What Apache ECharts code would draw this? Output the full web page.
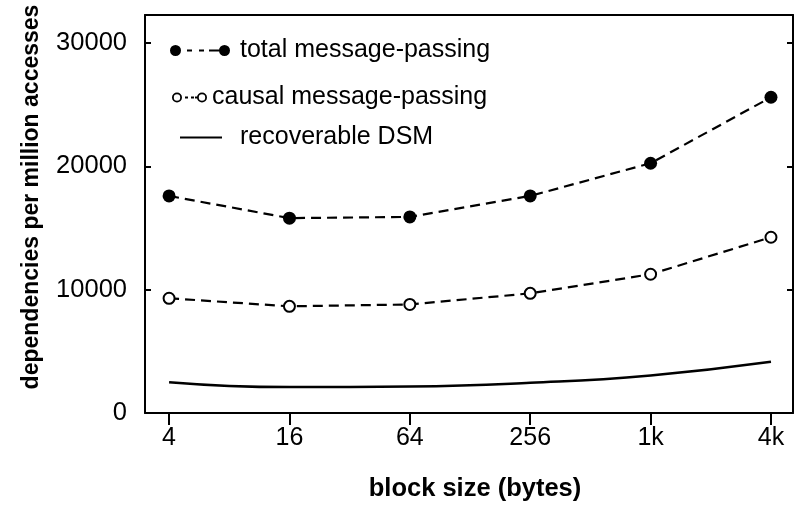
<!DOCTYPE html>
<html>
<head>
<meta charset="utf-8">
<script src="https://cdn.jsdelivr.net/npm/echarts@6/dist/echarts.min.js"></script>
<style>html,body{margin:0;padding:0;background:#fff}#c{width:794px;height:507px}</style>
</head>
<body>
<div id="c"></div>
<script>
// ---- data ----
const xLabels = ['4', '16', '64', '256', '1k', '4k'];
const yTicks = [0, 10000, 20000, 30000];
const totalMP = [17600, 15800, 15900, 17600, 20250, 25600];
const causalMP = [9300, 8650, 8800, 9700, 11250, 14250];
const recoverableDSM = [2500, 2100, 2150, 2450, 3050, 4150];
const seriesNames = ['total message-passing', 'causal message-passing', 'recoverable DSM'];

const FONT = 'Liberation Sans, Arial, Helvetica, sans-serif';
const xIdx = xLabels.map((_, i) => i);
const toPts = arr => arr.map((v, i) => [i, v]);

const iconTotal = 'path://M0,5.5A5.5,5.5 0 1 1 11,5.5A5.5,5.5 0 1 1 0,5.5Z' +
  'M17,4.5h5v2h-5ZM29,4.5h5v2h-5ZM39,4.5h11v2h-11Z' +
  'M49,5.5A5.5,5.5 0 1 1 60,5.5A5.5,5.5 0 1 1 49,5.5Z';
const iconCausal = 'path://M0,5A5,5 0 1 1 10,5A5,5 0 1 1 0,5Z' +
  'M1.8,5A3.2,3.2 0 1 0 8.2,5A3.2,3.2 0 1 0 1.8,5Z' +
  'M13,4h3v2h-3ZM19,4h3v2h-3ZM23,4h3v2h-3Z' +
  'M25,5A5,5 0 1 1 35,5A5,5 0 1 1 25,5Z' +
  'M26.8,5A3.2,3.2 0 1 0 33.2,5A3.2,3.2 0 1 0 26.8,5Z';
const iconLine = 'path://M0,0h42v2.2h-42Z';

const chart = echarts.init(document.getElementById('c'), null, {renderer: 'canvas'});
const axisLineStyle = {color: '#000', width: 2};
const legendText = {fontFamily: FONT, fontSize: 25, color: '#000'};

chart.setOption({
  animation: false,
  backgroundColor: '#fff',
  grid: {left: 145, right: 1, top: 15, bottom: 94, show: false},
  legend: [
    {data: [{name: seriesNames[0], icon: iconTotal}], left: 170, top: 38, padding: 0,
     itemWidth: 60, itemHeight: 11, itemStyle: {color: '#000', borderWidth: 0},
     textStyle: Object.assign({padding: [0, 0, 0, 5]}, legendText), selectedMode: false},
    {data: [{name: seriesNames[1], icon: iconCausal}], left: 172, top: 85, padding: 0,
     itemWidth: 35, itemHeight: 10, itemStyle: {color: '#000', borderWidth: 0},
     textStyle: Object.assign({padding: [0, 0, 0, 0]}, legendText), selectedMode: false},
    {data: [{name: seriesNames[2], icon: iconLine}], left: 180, top: 125, padding: 0,
     itemWidth: 42, itemHeight: 10, itemStyle: {color: '#000', borderWidth: 0},
     textStyle: Object.assign({padding: [0, 0, 0, 13]}, legendText), selectedMode: false}
  ],
  xAxis: [
    {type: 'value', min: -0.2, max: 5.183, position: 'bottom',
     name: 'block size (bytes)', nameLocation: 'middle', nameGap: 63,
     nameTextStyle: {fontFamily: FONT, fontSize: 25.5, fontWeight: 'bold', color: '#000', padding: [0, 0, 0, 12]},
     axisLine: {show: true, onZero: false, lineStyle: axisLineStyle},
     axisTick: {show: true, inside: false, length: 12, customValues: xIdx, lineStyle: {color: '#000', width: 2}},
     axisLabel: {show: true, customValues: xIdx, margin: 13, fontFamily: FONT, fontSize: 25, color: '#000',
                 formatter: v => xLabels[Math.round(v)]},
     splitLine: {show: false}},
    {type: 'value', min: -0.2, max: 5.183, position: 'top',
     axisLine: {show: true, onZero: false, lineStyle: axisLineStyle},
     axisTick: {show: false}, axisLabel: {show: false}, splitLine: {show: false}}
  ],
  yAxis: [
    {type: 'value', min: 0, max: 32270, interval: 10000, position: 'left',
     name: 'dependencies per million accesses', nameLocation: 'middle', nameGap: 102,
     nameTextStyle: {fontFamily: FONT, fontSize: 23, fontWeight: 'bold', color: '#000', padding: [0, 0, 0, 34]},
     axisLine: {show: true, onZero: false, lineStyle: axisLineStyle},
     axisTick: {show: true, inside: true, length: 6, customValues: yTicks, lineStyle: {color: '#000', width: 2}},
     axisLabel: {show: true, customValues: yTicks, margin: 18, fontFamily: FONT, fontSize: 25.5, color: '#000',
                 formatter: v => String(v)},
     splitLine: {show: false}},
    {type: 'value', min: 0, max: 32270, interval: 10000, position: 'right',
     axisLine: {show: true, onZero: false, lineStyle: axisLineStyle},
     axisTick: {show: true, inside: true, length: 6, customValues: yTicks, lineStyle: {color: '#000', width: 2}},
     axisLabel: {show: false}, splitLine: {show: false}}
  ],
  series: [
    {name: seriesNames[0], type: 'line', data: toPts(totalMP),
     symbol: 'circle', symbolSize: 13, itemStyle: {color: '#000'},
     lineStyle: {color: '#000', width: 2.2, type: [10, 6]}, z: 3},
    {name: seriesNames[1], type: 'line', data: toPts(causalMP),
     symbol: 'circle', symbolSize: 11, itemStyle: {color: '#fff', borderColor: '#000', borderWidth: 2},
     lineStyle: {color: '#000', width: 2.2, type: [10, 6]}, z: 3},
    {name: seriesNames[2], type: 'line', data: toPts(recoverableDSM),
     symbol: 'none', smooth: 0.5,
     itemStyle: {color: '#000'}, lineStyle: {color: '#000', width: 2.5, type: 'solid'}, z: 2}
  ]
});
</script>
</body>
</html>
